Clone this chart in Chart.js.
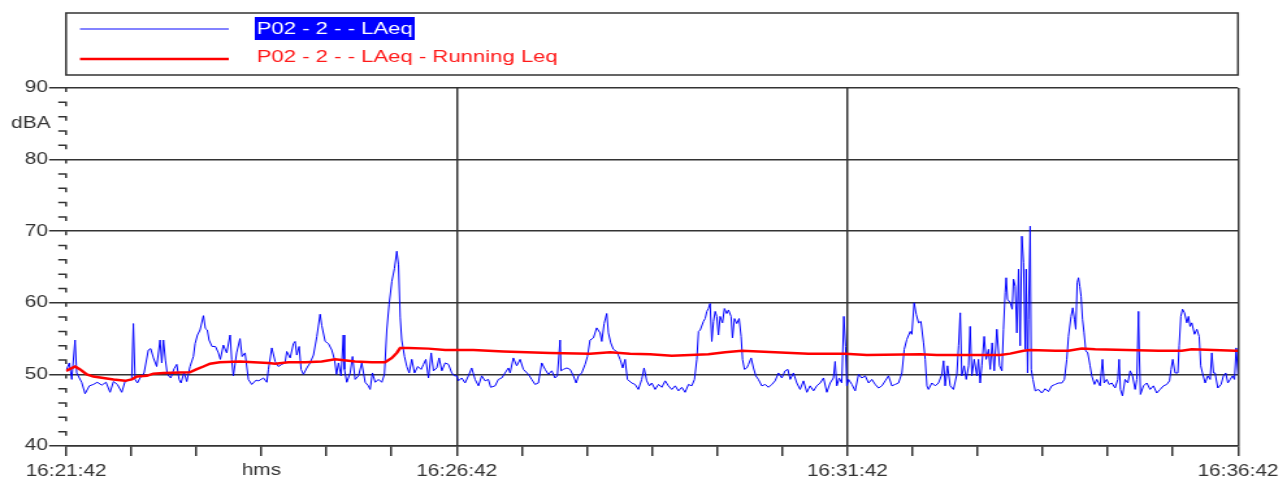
<!DOCTYPE html>
<html lang="en">
<head>
  <meta charset="UTF-8">
  <title>P02 - 2 - LAeq</title>
  <script src="https://cdn.jsdelivr.net/npm/chart.js"></script>
  <style>
    body { margin: 0; overflow: hidden; background: white; }
    /* the source picture is stretched sideways, so the canvas is too */
    #chart { display: block; transform: scaleX(1.3); transform-origin: 0 0; }
  </style>
</head>
<body>
<canvas id="chart" width="990" height="496"></canvas>
<script>
// seconds after 16:21:42
const laeqTime = [
  0, 2.5, 4.4, 6.9, 8.2, 10.2, 12, 14.6, 17.9, 21, 24, 27.4, 30.7, 33.8, 36.4, 39.4, 42.8, 45.3, 48.6, 50.4,
  51.7, 53, 54.8, 56.8, 59.9, 63.2, 65, 67.1, 69.6, 72.2, 73.5, 74.8, 76.3, 77.8, 80.4, 83, 85, 86.8, 88.3, 90.6,
  92.7, 95.2, 97.8, 99.1, 100.9, 102.9, 105.5, 107, 108.5, 109.8, 112.1, 114.7, 117, 118.5, 120.8, 123.4, 126, 127.2, 128.5, 131,
  133.6, 135.2, 137.5, 140, 142.6, 146,
  147.8, 151.6, 154.2, 155.4, 158, 160.6, 163.1, 165.7, 168.2, 169.5, 172.1, 174.6, 175.9, 177.2, 179, 180.5, 182.3, 184.9, 187.4, 190,
  192.6, 195.1, 196.4, 199, 201.5, 204.1, 206.1, 207.7, 209.2, 211.2, 213, 213.8, 215.6, 218.2, 220, 222, 224.6, 227.1, 229.7, 232.2,
  233.5, 235.3, 237.4, 239.9, 242.5, 244.5, 246.3, 248.1, 250.2, 252.2, 254, 255.3, 256.6, 257.8, 259.9, 261.7, 263.5, 265.5, 267.6, 270.1,
  272.7, 274.5, 276.3, 278.3, 280.4, 282.2, 284.7, 286.5, 288.6, 291.1, 293.7, 296.2, 298.3,
  300, 301.3, 303.9, 306.4, 309, 311.5, 314.1, 316.7, 319.2, 321.8, 324.3, 326.1, 329.5, 332, 334.6, 337.1, 339.7, 341, 343.5, 346.1,
  348.7, 351.2, 355.1, 357.6, 360.2, 362.7, 365.3, 367.9, 370.4, 373, 375.5, 377.3, 379.4, 380.1, 381.9, 384.5, 387.1, 389.6, 391.7, 393.5,
  396, 398.6, 400.4, 402.4, 405, 407.5, 410.1, 411.4, 413.2, 415.2, 416.5, 418.3, 420.3, 422.9, 425.5, 427.5, 429.3, 431.1, 434.4, 437,
  439.5, 442.1, 443.9, 445.9,
  448, 449.8, 452.4, 455, 457.5, 460.1, 462.6, 465.2, 467.8, 470.3, 472.9, 475.4, 478, 480.5, 482.6, 484.4, 485.7, 487, 489.5, 490.8,
  492.1, 493.3, 494.6, 495.9, 497.2, 498.5, 499.7, 501, 502.3, 504.1, 505.6, 507.4, 508.7, 510.7, 511.8, 513.3, 515.1, 516.9, 518.4, 519.5,
  521, 522.8, 524.1, 526.1, 527.9, 529.7, 531.7, 534.3, 536.9, 539.4, 542, 544.5, 547.1, 549.7, 552.2, 554.3, 556.1, 558.6, 561.2, 563.7,
  566.3, 568.9, 571.4, 574, 576.5, 579.1, 581.7, 584.2, 586.8, 589.3, 590.6, 591.9, 593.7, 595.7, 597.3,
  598.6, 599.6, 600.9, 603.5, 606, 608.6, 611.1, 613.7, 616.3, 618.8, 621.4, 623.9, 626.5, 629.1, 631.6, 634.2, 636.7, 639.3, 641.9, 643.7,
  645.7, 648.3, 649.5, 651.3, 652.9, 654.7, 656.5, 658.5, 659.8, 661.1, 662.3, 664.9, 667.5, 670, 672.6, 673.9, 675.1, 676.9, 679, 681.5,
  684.1, 685.4, 686.7, 687.9, 689.7, 691.3, 693.1, 694.3, 695.6, 697.4, 699.5, 700.7, 702, 703.3, 705.1, 706.6, 708.4, 709.7, 711.2, 712.8,
  714.8, 716.9, 718.7, 719.9, 721.2, 722, 723, 725.1, 726.6, 727.6, 728.9, 730.2, 731.5, 732.7, 734, 735.3, 736.6, 737.3, 738.4, 739.1,
  740.4, 741.2, 742.5, 744.3, 746.8,
  749.3, 751.9, 754.4, 757, 759.6, 762.1, 764.7, 766.7, 768.5, 769.8, 771.8, 773.1, 774.4, 775.4, 776.5, 777.5, 778.5, 779.5, 780.6, 781.8,
  783.1, 784.6, 786.4, 787.7, 789.8, 791.6, 794.1, 795.9, 797.2, 799.2, 801, 803.1, 805.6, 807.7, 808.7, 809.7, 811.3, 813.3, 815.4, 817.2,
  819, 821, 822.3, 823.6, 824.1, 825.1, 827.4, 830, 832.5, 835.1, 837.6, 840.2, 842.8, 845.3, 847.4, 848.6, 849.9, 851.7, 853.8, 854.8,
  856.1, 857.4, 858.9, 860.7, 862, 863.2, 864.5, 866.6, 868.4, 870.2, 871.4, 872.7, 874.8, 876.8, 878.6, 879.9, 881.2, 882.4, 884.5, 887,
  888.8, 890.6, 892.2, 894, 895.8, 897.3, 898.6, 900
];
const laeqDb = [
  50.5, 51.6, 49.3, 54.8, 50.2, 49.5, 48.9, 47.3, 48.4, 48.6, 48.9, 48.5, 48.9, 47.5, 49, 48.6, 47.5, 49, 49.2, 49.3,
  57.1, 49.3, 48.8, 49.5, 50.2, 53.4, 53.6, 52.3, 51.1, 54.8, 51.6, 54.8, 52, 50, 49.5, 50.8, 51.4, 49.3, 48.8, 50.3,
  49, 51.1, 52.5, 54.3, 55.5, 56.2, 58.2, 56.4, 56.2, 54.8, 53.9, 53.9, 53, 52.1, 54.1, 53, 55.5, 52.1, 49.8, 53,
  55, 52.5, 53, 49.3, 48.6, 49.2,
  49.1, 49.5, 48.9, 50.7, 53.7, 51.8, 51.1, 51.4, 51.6, 53.2, 52.3, 54.3, 54.6, 52.7, 53.9, 50.7, 50, 50.9, 51.6, 52.7,
  55.3, 58.4, 56.8, 54.6, 54.3, 53.4, 52.1, 50, 51.6, 49.8, 55.5, 50.7, 48.9, 50.2, 52.5, 49.3, 49.8, 51.6, 48.9, 48.4,
  47.9, 50.2, 48.9, 49.3, 48.9, 50, 56.2, 59.8, 63, 64.8, 67.2, 65.3, 58, 54.8, 52.5, 51.1, 50.2, 52.1, 50.2, 51.1,
  50.7, 51.4, 52.1, 49.5, 53, 50.5, 50.9, 52.3, 50.5, 51.6, 51.4, 50.2, 49.8,
  49.8, 49.1, 49.5, 48.8, 49.8, 50.9, 49.3, 48.4, 49.8, 49.1, 49.3, 48.2, 48.4, 49.3, 49.5, 50.2, 50.9, 50.2, 52.3, 51.2,
  52.1, 50.7, 50, 49.3, 48.6, 48.8, 51.6, 50.7, 50, 50.5, 49.5, 49.8, 54.8, 50.5, 50.7, 50.9, 50.7, 49.8, 48.8, 49.8,
  50.2, 51.4, 52.5, 54.8, 55.1, 56.5, 55.8, 54.6, 57.1, 58.5, 55.8, 54.4, 53.5, 53.2, 52.1, 50.9, 52.1, 49.3, 48.8, 48.6,
  47.9, 49.3, 50.9, 49.1,
  48.4, 48.8, 47.9, 48.6, 48.2, 49.1, 48.4, 47.9, 48.4, 47.7, 48.2, 47.5, 48.6, 48.4, 49.3, 52.1, 56, 56.2, 57.4, 57.8,
  58.8, 59.2, 59.9, 54.6, 57.4, 58.8, 58.1, 55.5, 58.1, 57.2, 59.2, 58.5, 59, 58.1, 55.1, 57.8, 57.1, 57.8, 55.3, 52.1,
  50.7, 50.9, 51.4, 52.3, 50.9, 49.8, 49.3, 48.4, 48.6, 48.2, 48.6, 49.1, 50.2, 49.5, 50.5, 50.7, 49.3, 50.2, 48.8, 47.9,
  49.1, 47.5, 48.4, 47.7, 48.4, 48.8, 49.5, 47.5, 48.8, 49.5, 51.8, 48.4, 49.5, 48.8, 58.1,
  53.9, 48.4, 49.3, 48.6, 47.7, 50, 49.5, 49.8, 48.8, 49.3, 48.6, 48.1, 48.4, 49.1, 49.8, 48.4, 48.6, 48.8, 50.2, 53.5,
  54.9, 56, 55.6, 60, 58.4, 57.2, 57.4, 54.4, 52.1, 48.4, 47.9, 48.8, 48.4, 48.8, 50, 51.9, 48.4, 51.2, 48.4, 47.9,
  50, 54, 58.6, 49.8, 51.2, 49.3, 51.2, 56.7, 49.8, 52.1, 49.8, 52.1, 48.8, 51.2, 55.3, 52.1, 53.5, 50.7, 54.4, 50.5,
  56.3, 51.2, 50.5, 56.3, 61.4, 63.5, 60.5, 60, 59.1, 63.3, 62.3, 55.8, 64.7, 54, 69.3, 65.6, 53.5, 64.7, 50.2, 57.7,
  70.7, 50.7, 49.3, 47.7, 47.9,
  47.4, 48, 47.6, 48.4, 48.6, 48.8, 48.8, 49.3, 52.1, 55.3, 58.1, 59.3, 57.7, 56.3, 62.8, 63.5, 62.3, 60.9, 57.7, 55.8,
  53.3, 53, 51.2, 49.8, 48.6, 49.3, 48.4, 52.1, 48.8, 49.3, 48.6, 48.8, 48.1, 49.3, 52.1, 47.9, 47, 49.3, 48.8, 50.5,
  49.8, 47.9, 49.3, 58.8, 53.5, 47.2, 48.4, 48.8, 47.9, 48.4, 47.4, 47.9, 48.4, 48.6, 49.1, 50.7, 52.1, 50.2, 50.2, 54,
  58.1, 59.1, 58.6, 57.2, 58.1, 56.7, 57.2, 55.6, 56.3, 55.3, 51.2, 50.2, 48.8, 49.8, 49.3, 53, 50.2, 50.2, 48.1, 48.6,
  49.8, 50.2, 48.8, 49.3, 49.8, 49.3, 53.7, 50
];

const leqTime = [
  0, 7, 10.8, 15.9, 21, 28.7, 36.4, 45.3, 50.4, 54.3, 62, 67, 74.8, 95, 100, 105.5, 110.6, 118, 133.6, 144,
  155.4, 160.6, 170.8, 183.6, 196.4, 206.6, 222, 234.8, 245, 250.2, 254, 256.6, 263, 278.3, 291.1, 312.8, 335.9, 371.7, 402.4, 417.8,
  433, 448.5, 465.2, 493.3, 506.1, 519, 531.7, 570.1, 598.3, 615, 656, 668.7, 717.4, 725, 735.3, 740.4, 759.6, 769.8, 780, 790.3,
  838.9, 856.8, 864.5, 897.8, 900
];
const leqDb = [
  50.5, 51.1, 50.7, 50, 49.7, 49.5, 49.3, 49.1, 49.3, 49.7, 49.8, 50.1, 50.2, 50.3, 50.7, 51.1, 51.5, 51.7, 51.8, 51.7,
  51.6, 51.5, 51.7, 51.7, 51.8, 52.1, 51.8, 51.7, 51.7, 52.3, 53, 53.7, 53.7, 53.6, 53.4, 53.4, 53.2, 53, 52.9, 53.1,
  52.9, 52.8, 52.6, 52.8, 53.1, 53.3, 53.2, 52.9, 52.9, 52.7, 52.8, 52.7, 52.7, 52.9, 53.3, 53.4, 53.3, 53.3, 53.6, 53.5,
  53.3, 53.3, 53.5, 53.3, 53.3
];

const xLabelSeconds = [0, 300, 600, 900];
const xLabels = ['16:21:42', '16:26:42', '16:31:42', '16:36:42'];
const yMin = 40, yMax = 90;

const INK = '#333333';
const FONT = '"Liberation Sans", Arial, sans-serif';

const decorations = {
  id: 'decorations',
  afterDraw(chart) {
    const { ctx, chartArea, scales } = chart;
    const y = scales.y, x = scales.x;
    ctx.save();

    // little "¬" minor ticks along the left edge
    ctx.strokeStyle = INK;
    ctx.lineWidth = 1.5;
    for (let v = yMin + 2; v <= yMax; v += 2) {
      const py = y.getPixelForValue(v);
      ctx.beginPath();
      if (v % 10 !== 0) {
        ctx.moveTo(chartArea.left - 6, py);
        ctx.lineTo(chartArea.left, py);
      } else {
        ctx.moveTo(chartArea.left, py);
      }
      ctx.lineTo(chartArea.left, py + 4);
      ctx.stroke();
    }

    // axis captions
    ctx.fillStyle = INK;
    ctx.font = '16px ' + FONT;
    ctx.textAlign = 'right';
    ctx.textBaseline = 'middle';
    ctx.fillText('dBA', chartArea.left - 12, y.getPixelForValue(85));
    ctx.textAlign = 'center';
    ctx.fillText('hms', x.getPixelForValue(150), 471);

    // legend box
    ctx.lineWidth = 1.5;
    ctx.strokeRect(chartArea.left, 13, chartArea.right - chartArea.left, 62);
    const sets = chart.data.datasets;
    ctx.font = '17px ' + FONT;
    ctx.textAlign = 'left';
    ctx.beginPath();
    ctx.strokeStyle = '#5a5aff';
    ctx.lineWidth = 1.5;
    ctx.moveTo(61.5, 29); ctx.lineTo(176, 29);
    ctx.stroke();
    const w = ctx.measureText(sets[0].label).width;
    ctx.fillStyle = '#0000ff';
    ctx.fillRect(196, 17, w + 3, 23);
    ctx.fillStyle = '#ffffff';
    ctx.fillText(sets[0].label, 197.5, 29);

    ctx.beginPath();
    ctx.strokeStyle = '#ff0000';
    ctx.lineWidth = 2.5;
    ctx.moveTo(61.5, 59); ctx.lineTo(176, 59);
    ctx.stroke();
    ctx.fillStyle = '#ff1a1a';
    ctx.fillText(sets[1].label, 197.5, 57);
    ctx.restore();
  }
};

new Chart(document.getElementById('chart'), {
  type: 'line',
  data: {
    datasets: [
      {
        label: 'P02 - 2 - - LAeq',
        data: laeqTime.map((t, i) => ({ x: t, y: laeqDb[i] })),
        borderColor: '#0000ff',
        borderWidth: 1,
        pointRadius: 0,
        order: 1
      },
      {
        label: 'P02 - 2 - - LAeq - Running Leq',
        data: leqTime.map((t, i) => ({ x: t, y: leqDb[i] })),
        borderColor: '#ff0000',
        borderWidth: 2.5,
        pointRadius: 0,
        order: 0
      }
    ]
  },
  options: {
    responsive: false,
    animation: false,
    layout: { padding: { top: 88, right: 37.7, left: 0, bottom: 0 } },
    plugins: { legend: { display: false }, tooltip: { enabled: false } },
    scales: {
      x: {
        type: 'linear',
        min: 0,
        max: 900,
        afterFit(scale) { scale.height = 50; },
        border: { display: true, color: INK, width: 1.5 },
        grid: {
          color: c => (c.tick && c.tick.value % 300 === 0 && c.tick.value !== 0) ? INK : 'rgba(0,0,0,0)',
          lineWidth: 1.5,
          tickColor: INK,
          tickLength: 10
        },
        ticks: {
          stepSize: 50,
          autoSkip: false,
          maxRotation: 0,
          padding: 6,
          color: INK,
          font: { family: FONT, size: 16 },
          callback: v => {
            const i = xLabelSeconds.indexOf(v);
            return i >= 0 ? xLabels[i] : '';
          }
        }
      },
      y: {
        min: yMin,
        max: yMax,
        afterFit(scale) { scale.width = 50.8; },
        border: { display: false },
        grid: { color: INK, lineWidth: 1.5, tickColor: INK, tickLength: 13 },
        ticks: {
          stepSize: 10,
          padding: 1,
          color: INK,
          font: { family: FONT, size: 16 }
        }
      }
    }
  },
  plugins: [decorations]
});
</script>
</body>
</html>
